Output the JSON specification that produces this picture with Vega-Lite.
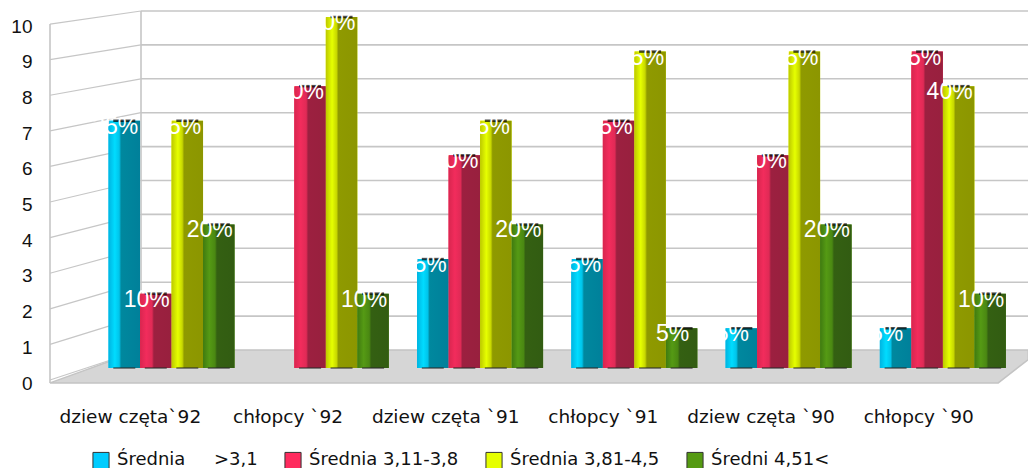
{
"$schema":"https://vega.github.io/schema/vega-lite/v6.json",
"width":1028,"height":468,"padding":0,"autosize":"none","background":"white",
"config":{"view":{"stroke":null}},
"datasets":{
"bars":[
{"g":"dziew częta`92","s":"Średnia\u00a0\u00a0\u00a0\u00a0\u00a0>3,1","v":7,"p":"35%"},{"g":"dziew częta`92","s":"Średnia 3,11-3,8","v":2,"p":"10%"},{"g":"dziew częta`92","s":"Średnia 3,81-4,5","v":7,"p":"35%"},{"g":"dziew częta`92","s":"Średni 4,51<","v":4,"p":"20%"},
{"g":"chłopcy `92","s":"Średnia 3,11-3,8","v":8,"p":"40%"},{"g":"chłopcy `92","s":"Średnia 3,81-4,5","v":10,"p":"50%"},{"g":"chłopcy `92","s":"Średni 4,51<","v":2,"p":"10%"},
{"g":"dziew częta `91","s":"Średnia\u00a0\u00a0\u00a0\u00a0\u00a0>3,1","v":3,"p":"15%"},{"g":"dziew częta `91","s":"Średnia 3,11-3,8","v":6,"p":"30%"},{"g":"dziew częta `91","s":"Średnia 3,81-4,5","v":7,"p":"35%"},{"g":"dziew częta `91","s":"Średni 4,51<","v":4,"p":"20%"},
{"g":"chłopcy `91","s":"Średnia\u00a0\u00a0\u00a0\u00a0\u00a0>3,1","v":3,"p":"15%"},{"g":"chłopcy `91","s":"Średnia 3,11-3,8","v":7,"p":"35%"},{"g":"chłopcy `91","s":"Średnia 3,81-4,5","v":9,"p":"45%"},{"g":"chłopcy `91","s":"Średni 4,51<","v":1,"p":"5%"},
{"g":"dziew częta `90","s":"Średnia\u00a0\u00a0\u00a0\u00a0\u00a0>3,1","v":1,"p":"5%"},{"g":"dziew częta `90","s":"Średnia 3,11-3,8","v":6,"p":"30%"},{"g":"dziew częta `90","s":"Średnia 3,81-4,5","v":9,"p":"45%"},{"g":"dziew częta `90","s":"Średni 4,51<","v":4,"p":"20%"},
{"g":"chłopcy `90","s":"Średnia\u00a0\u00a0\u00a0\u00a0\u00a0>3,1","v":1,"p":"5%"},{"g":"chłopcy `90","s":"Średnia 3,11-3,8","v":9,"p":"45%"},{"g":"chłopcy `90","s":"Średnia 3,81-4,5","v":8,"p":"40%"},{"g":"chłopcy `90","s":"Średni 4,51<","v":2,"p":"10%"}
],
"floor":[{"d":0,"a":-0.97,"b":-0.97},{"d":1,"a":-0.97,"b":0},{"d":10.42,"a":-0.97,"b":0},{"d":10.75,"a":-0.28,"b":0}],
"levels":[{"l":1},{"l":2},{"l":3},{"l":4},{"l":5},{"l":6},{"l":7},{"l":8},{"l":9},{"l":10}],
"side":[
{"l":0,"d":0,"w":-0.885},{"l":0,"d":1,"w":0},
{"l":1,"d":0,"w":0.165},{"l":1,"d":1,"w":1},
{"l":2,"d":0,"w":1.215},{"l":2,"d":1,"w":2},
{"l":3,"d":0,"w":2.265},{"l":3,"d":1,"w":3},
{"l":4,"d":0,"w":3.315},{"l":4,"d":1,"w":4},
{"l":5,"d":0,"w":4.365},{"l":5,"d":1,"w":5},
{"l":6,"d":0,"w":5.415},{"l":6,"d":1,"w":6},
{"l":7,"d":0,"w":6.465},{"l":7,"d":1,"w":7},
{"l":8,"d":0,"w":7.515},{"l":8,"d":1,"w":8},
{"l":9,"d":0,"w":8.565},{"l":9,"d":1,"w":9},
{"l":10,"d":0,"w":9.615},{"l":10,"d":1,"w":10}
],
"posts":[{"d":0,"lo":-0.97,"hi":9.615},{"d":1,"lo":0,"hi":10}]
},
"resolve":{"scale":{"x":"independent","y":"independent","color":"independent"},"axis":{"x":"independent","y":"independent"}},
"layer":[
{"encoding":{},
 "layer":[
 {"data":{"name":"levels"},"mark":{"type":"rule","color":"#c6c6c6","strokeWidth":1.6},
  "encoding":{"x":{"datum":1,"type":"quantitative","scale":{"domain":[0,1],"range":[50,141]},"axis":null},"x2":{"datum":10.75},"y":{"field":"l","type":"quantitative","scale":{"domain":[0,10],"range":[350,11]},"axis":null}}},
 {"data":{"name":"side"},"mark":{"type":"line","color":"#c6c6c6","strokeWidth":1.2},
  "encoding":{"detail":{"field":"l"},"x":{"field":"d","type":"quantitative"},"y":{"field":"w","type":"quantitative"}}},
 {"data":{"name":"posts"},"mark":{"type":"rule","color":"#c6c6c6","strokeWidth":1.6},
  "encoding":{"x":{"field":"d","type":"quantitative"},"y":{"field":"lo","type":"quantitative"},"y2":{"field":"hi"}}},
 {"data":{"name":"floor"},"mark":{"type":"area","color":"#d6d6d6","stroke":"#c4c4c4","strokeWidth":1.5,"opacity":1},
  "encoding":{"x":{"field":"d","type":"quantitative"},"y":{"field":"a","type":"quantitative"},"y2":{"field":"b"}}}
 ]},
{"data":{"name":"bars"},
 "encoding":{
  "x":{"field":"g","type":"nominal","sort":null,"scale":{"domain":["dziew częta`92","chłopcy `92","dziew częta `91","chłopcy `91","dziew częta `90","chłopcy `90"],"range":[94.4,1020],"paddingInner":0.183,"paddingOuter":0.0915},"axis":null},
  "xOffset":{"field":"s","type":"nominal","scale":{"domain":["Średnia\u00a0\u00a0\u00a0\u00a0\u00a0>3,1","Średnia 3,11-3,8","Średnia 3,81-4,5","Średni 4,51<"],"paddingInner":0,"paddingOuter":0}},
  "y":{"field":"v","type":"quantitative","scale":{"domain":[-0.15,10],"range":[368,17],"zero":false,"nice":false},"axis":null}
 },
 "layer":[
 {"mark":{"type":"bar"},
  "encoding":{"y2":{"datum":-0.15},"color":{"field":"s","type":"nominal","sort":null,
    "scale":{"domain":["Średnia\u00a0\u00a0\u00a0\u00a0\u00a0>3,1","Średnia 3,11-3,8","Średnia 3,81-4,5","Średni 4,51<"],"range":["#00ccff","#ff2b5e","#e6ff00","#559a12"]},
    "legend":{"orient":"none","legendX":92,"legendY":451,"direction":"horizontal","columns":4,"title":null,"symbolType":"square","symbolSize":260,"symbolStrokeColor":"#333333","symbolStrokeWidth":1,"labelFont":"DejaVu Sans","labelFontSize":18,"labelColor":"#111111","columnPadding":24,"labelOffset":7}}}},
 {"transform":[{"filter":"indexof(datum.s,'>3,1')>=0"}],"mark":{"type":"bar","color":{"gradient":"linear","x1":0,"x2":1,"y1":0,"y2":0,"stops":[{"offset":0,"color":"#00b4e0"},{"offset":0.2,"color":"#00dcff"},{"offset":0.34,"color":"#00c4ea"},{"offset":0.4,"color":"#00889e"},{"offset":1,"color":"#00809a"}]}},"encoding":{"y2":{"datum":-0.15}}},
 {"transform":[{"filter":"datum.s=='Średnia 3,11-3,8'"}],"mark":{"type":"bar","color":{"gradient":"linear","x1":0,"x2":1,"y1":0,"y2":0,"stops":[{"offset":0,"color":"#d8264f"},{"offset":0.2,"color":"#f22c5c"},{"offset":0.38,"color":"#e02a56"},{"offset":0.44,"color":"#9c2040"},{"offset":1,"color":"#98203e"}]}},"encoding":{"y2":{"datum":-0.15}}},
 {"transform":[{"filter":"datum.s=='Średnia 3,81-4,5'"}],"mark":{"type":"bar","color":{"gradient":"linear","x1":0,"x2":1,"y1":0,"y2":0,"stops":[{"offset":0,"color":"#bcc800"},{"offset":0.2,"color":"#e6ff00"},{"offset":0.34,"color":"#c8d800"},{"offset":0.4,"color":"#8f9a00"},{"offset":1,"color":"#8c9600"}]}},"encoding":{"y2":{"datum":-0.15}}},
 {"transform":[{"filter":"datum.s=='Średni 4,51<'"}],"mark":{"type":"bar","color":{"gradient":"linear","x1":0,"x2":1,"y1":0,"y2":0,"stops":[{"offset":0,"color":"#3f7a10"},{"offset":0.2,"color":"#559a14"},{"offset":0.38,"color":"#4a8812"},{"offset":0.44,"color":"#346012"},{"offset":1,"color":"#325c12"}]}},"encoding":{"y2":{"datum":-0.15}}},
 {"mark":{"type":"tick","color":"#000000","thickness":2.5,"size":22,"orient":"horizontal"}},
 {"mark":{"type":"tick","color":"#2a2a2a","thickness":1.5,"size":22,"orient":"horizontal"},"encoding":{"y":{"datum":-0.15}}},
 {"mark":{"type":"text","color":"white","font":"Liberation Sans","fontSize":23,"dx":-9,"dy":6,"baseline":"middle"},"encoding":{"text":{"field":"p"}}}
 ]},
{"data":{"name":"bars"},"mark":{"type":"point","opacity":0},
 "encoding":{
  "x":{"field":"g","type":"nominal","sort":null,"scale":{"domain":["dziew częta`92","chłopcy `92","dziew częta `91","chłopcy `91","dziew częta `90","chłopcy `90"],"range":[51,997],"paddingInner":0,"paddingOuter":0},
   "axis":{"orient":"bottom","title":null,"domain":false,"ticks":false,"labelAngle":0,"offset":-52,"labelPadding":0,"labelBaseline":"middle","labelFont":"DejaVu Sans","labelFontSize":18.5,"labelColor":"#111111"}},
  "y":{"field":"v","type":"quantitative","scale":{"domain":[0,10],"range":[383,26]},
   "axis":{"orient":"left","title":null,"domain":false,"ticks":false,"grid":false,"values":[0,1,2,3,4,5,6,7,8,9,10],"offset":-32,"labelPadding":0,"labelFont":"Liberation Sans","labelFontSize":19,"labelColor":"#111111"}}
 }}
]
}
